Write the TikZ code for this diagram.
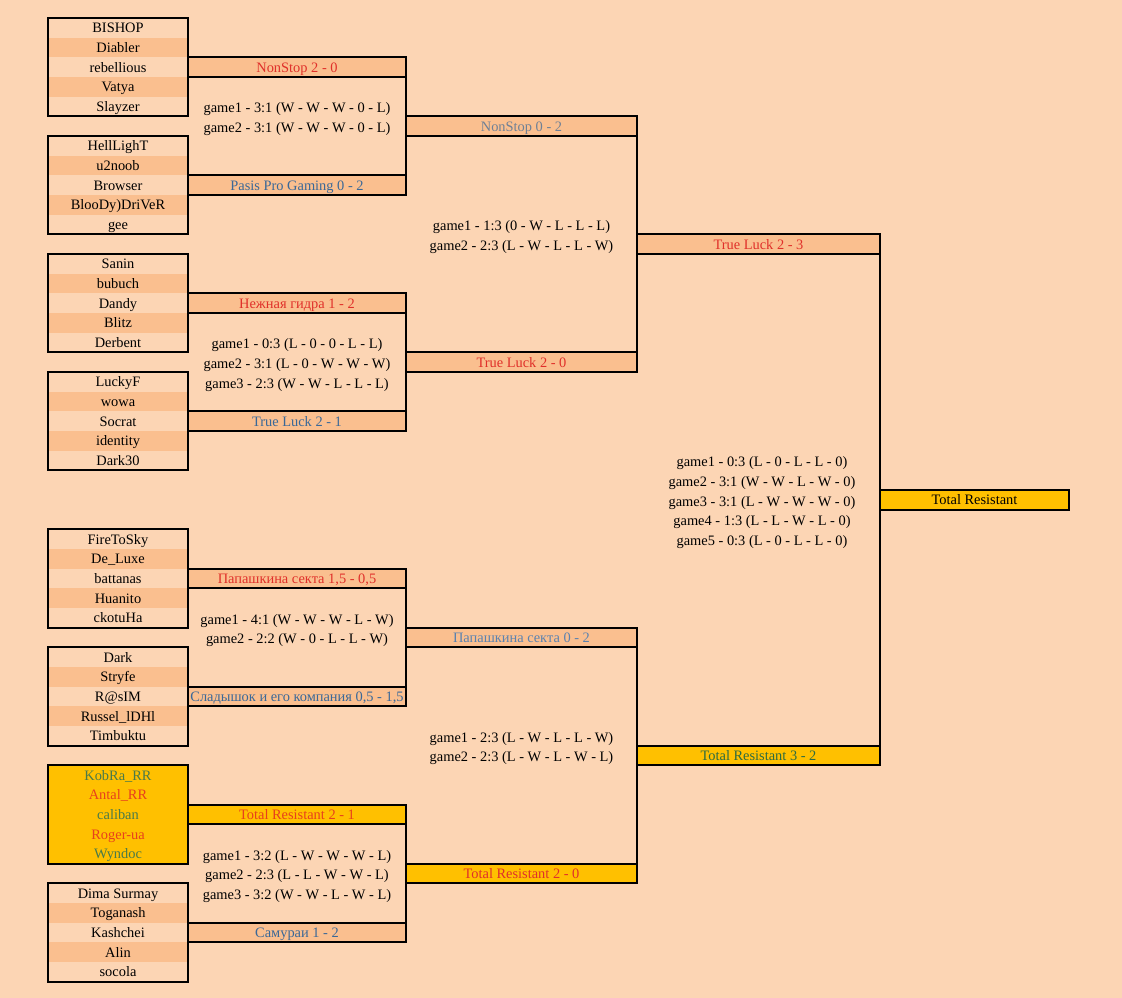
\documentclass[tikz,border=0pt]{standalone}
\usepackage{fontspec}
\setmainfont{Liberation Serif}
\definecolor{bg}{HTML}{FCD5B4}
\definecolor{dk}{HTML}{FABF8F}
\definecolor{gold}{HTML}{FFC000}
\definecolor{rd}{HTML}{E0302A}
\definecolor{rdo}{HTML}{E8401C}
\definecolor{bl}{HTML}{3A6898}
\definecolor{gbl}{HTML}{6E8096}
\definecolor{lbl}{HTML}{5A82B0}
\definecolor{grn}{HTML}{4A7A4A}
\definecolor{dgrn}{HTML}{2E6B40}

\begin{document}
\begin{tikzpicture}[x=0.75pt,y=-14.75pt,
    every node/.style={font=\fontsize{10.8}{14.75}\selectfont, inner sep=0pt, outer sep=0pt,
        text height=9pt, text depth=1.5pt},
    pl/.style={minimum width=105pt, minimum height=14.75pt},
    r0/.style={}, r1/.style={fill=dk}, r2/.style={}, r3/.style={fill=dk}, r4/.style={},
    lw/.style={line width=1.5pt, line cap=rect},
    bar/.style={draw, line width=1.5pt, fill=dk, minimum height=14.75pt},
    bar1/.style={bar, minimum width=163.5pt},
    bar2/.style={bar, minimum width=173.25pt},
    bar3/.style={bar, minimum width=182.25pt},
    barf/.style={bar, minimum width=141.75pt},
    gm/.style={align=center, text height={}, text depth={}, yshift=-2.25pt}]
                \fill[bg] (0,-0.9153) rectangle (1122,49.83);
                % teams
                \foreach \n [count=\i from 0] in {BISHOP,Diabler,rebellious,Vatya,Slayzer}
                    \node[pl,r\i] (t1p\i) at (118,\i+0.5) {\n};
                \foreach \n [count=\i from 0] in {HellLighT,u2noob,Browser,BlooDy)DriVeR,gee}
                    \node[pl,r\i] (t2p\i) at (118,6+\i+0.5) {\n};
                \foreach \n [count=\i from 0] in {Sanin,bubuch,Dandy,Blitz,Derbent}
                    \node[pl,r\i] (t3p\i) at (118,12+\i+0.5) {\n};
                \foreach \n [count=\i from 0] in {LuckyF,wowa,Socrat,identity,Dark30}
                    \node[pl,r\i] (t4p\i) at (118,18+\i+0.5) {\n};
                \foreach \n [count=\i from 0] in {FireToSky,De\_Luxe,battanas,Huanito,ckotuHa}
                    \node[pl,r\i] (t5p\i) at (118,26+\i+0.5) {\n};
                \foreach \n [count=\i from 0] in {Dark,Stryfe,R@sIM,Russel\_lDHl,Timbuktu}
                    \node[pl,r\i] (t6p\i) at (118,32+\i+0.5) {\n};
                \foreach \n/\c [count=\i from 0] in {KobRa\_RR/grn,Antal\_RR/rdo,caliban/grn,Roger-ua/rdo,Wyndoc/grn}
                    \node[pl,fill=gold,text=\c] (t7p\i) at (118,38+\i+0.5) {\n};
                \foreach \n [count=\i from 0] in {Dima Surmay,Toganash,Kashchei,Alin,socola}
                    \node[pl,r\i] (t8p\i) at (118,44+\i+0.5) {\n};
                \foreach \t in {1,...,8}
                    \draw[lw] (t\t p0.north west) rectangle (t\t p4.south east);
                % round 1
                \node[bar1,text=rd] (m1a) at (297,2.5) {NonStop 2 - 0};
                \node[bar1,text=bl] (m1b) at (297,8.5) {Pasis Pro Gaming 0 - 2};
                \node[bar1,text=rd] (m2a) at (297,14.5) {Нежная гидра 1 - 2};
                \node[bar1,text=bl] (m2b) at (297,20.5) {True Luck 2 - 1};
                \node[bar1,text=rd] (m3a) at (297,28.5) {Папашкина секта 1,5 - 0,5};
                \node[bar1,text=bl] (m3b) at (297,34.5) {Сладышок и его компания 0,5 - 1,5};
                \node[bar1,fill=gold,text=rdo] (m4a) at (297,40.5) {Total Resistant 2 - 1};
                \node[bar1,text=bl] (m4b) at (297,46.5) {Самураи 1 - 2};
                \draw[lw] (m1a.north east) -- (m1b.south east);
                \draw[lw] (m2a.north east) -- (m2b.south east);
                \draw[lw] (m3a.north east) -- (m3b.south east);
                \draw[lw] (m4a.north east) -- (m4b.south east);
                \node[gm] (g1) at (297,5) {game1 - 3:1 (W - W - W - 0 - L)\\game2 - 3:1 (W - W - W - 0 - L)};
                \node[gm] (g2) at (297,17.5) {game1 - 0:3 (L - 0 - 0 - L - L)\\game2 - 3:1 (L - 0 - W - W - W)\\game3 - 2:3 (W - W - L - L - L)};
                \node[gm] (g3) at (297,31) {game1 - 4:1 (W - W - W - L - W)\\game2 - 2:2 (W - 0 - L - L - W)};
                \node[gm] (g4) at (297,43.5) {game1 - 3:2 (L - W - W - W - L)\\game2 - 2:3 (L - L - W - W - L)\\game3 - 3:2 (W - W - L - W - L)};
                % round 2
                \node[bar2,text=gbl] (n1a) at (521.5,5.5) {NonStop 0 - 2};
                \node[bar2,text=rd] (n1b) at (521.5,17.5) {True Luck 2 - 0};
                \node[bar2,text=lbl] (n2a) at (521.5,31.5) {Папашкина секта 0 - 2};
                \node[bar2,fill=gold,text=rd] (n2b) at (521.5,43.5) {Total Resistant 2 - 0};
                \draw[lw] (n1a.north east) -- (n1b.south east);
                \draw[lw] (n2a.north east) -- (n2b.south east);
                \node[gm] (h1) at (521.5,11) {game1 - 1:3 (0 - W - L - L - L)\\game2 - 2:3 (L - W - L - L - W)};
                \node[gm] (h2) at (521.5,37) {game1 - 2:3 (L - W - L - L - W)\\game2 - 2:3 (L - W - L - W - L)};
                % round 3
                \node[bar3,text=rd] (f1a) at (758.5,11.5) {True Luck 2 - 3};
                \node[bar3,fill=gold,text=dgrn] (f1b) at (758.5,37.5) {Total Resistant 3 - 2};
                \draw[lw] (f1a.north east) -- (f1b.south east);
                \node[gm] (k1) at (762,24.5) {game1 - 0:3 (L - 0 - L - L - 0)\\game2 - 3:1 (W - W - L - W - 0)\\game3 - 3:1 (L - W - W - W - 0)\\game4 - 1:3 (L - L - W - L - 0)\\game5 - 0:3 (L - 0 - L - L - 0)};
                % winner
                \node[barf,fill=gold] (win) at (974.5,24.5) {Total Resistant};
            \end{tikzpicture}
\end{document}
